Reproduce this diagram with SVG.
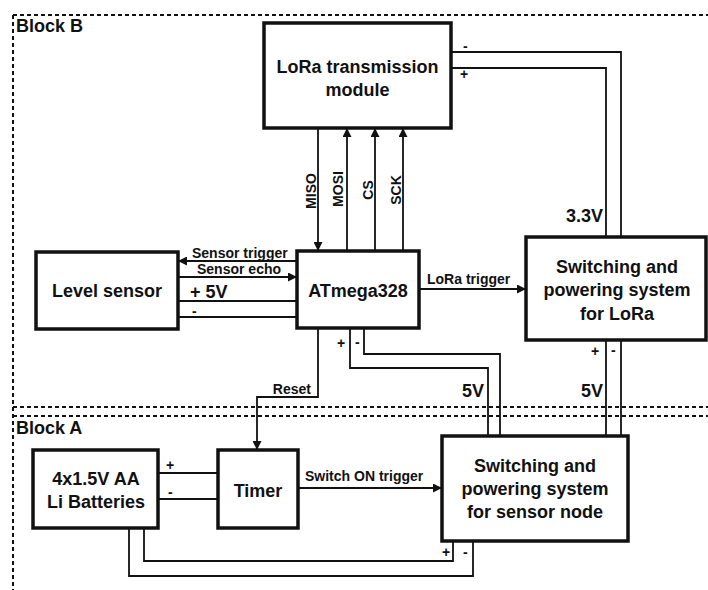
<svg xmlns="http://www.w3.org/2000/svg" width="708" height="590" viewBox="0 0 708 590">
<style>
text{font-family:"Liberation Sans",Arial,sans-serif;font-weight:bold;fill:#111}
.box{fill:#fff;stroke:#111;stroke-width:3.5}
.big{font-size:18px;text-anchor:middle}
.lbl{font-size:14px}
.v{font-size:18px}
.ln{fill:none;stroke:#111;stroke-width:1.8}
.dash{fill:none;stroke:#111;stroke-width:2;stroke-dasharray:4 3}
</style>
<defs>
<marker id="arr" viewBox="0 0 10 10" refX="10" refY="5" markerWidth="9" markerHeight="9" markerUnits="userSpaceOnUse" orient="auto">
<path d="M0,0 L10,5 L0,10 Z" fill="#111"/>
</marker>
</defs>
<rect width="708" height="590" fill="#fff"/>
<g id="blocks">
<path class="dash" d="M13,15 H708 M13,407 H708 M13,416 H708 M13,15 V590"/>
<text x="16" y="32" style="font-size:18px">Block B</text>
<text x="16" y="434" style="font-size:18px">Block A</text>
</g>
<g id="connectors">
<path class="ln" d="M318,128 V251" marker-end="url(#arr)"/>
<path class="ln" d="M347,251 V128" marker-end="url(#arr)"/>
<path class="ln" d="M375,251 V128" marker-end="url(#arr)"/>
<path class="ln" d="M403,251 V128" marker-end="url(#arr)"/>
<text class="lbl" transform="rotate(-90 316 191)" x="316" y="191" text-anchor="middle">MISO</text>
<text class="lbl" transform="rotate(-90 343 189)" x="343" y="189" text-anchor="middle">MOSI</text>
<text class="lbl" transform="rotate(-90 373 190)" x="373" y="190" text-anchor="middle">CS</text>
<text class="lbl" transform="rotate(-90 401 190)" x="401" y="190" text-anchor="middle">SCK</text>
<path class="ln" d="M297,261 H178" marker-end="url(#arr)"/>
<path class="ln" d="M178,277 H297" marker-end="url(#arr)"/>
<path class="ln" d="M178,301 H297 M178,317 H297"/>
<text class="lbl" x="192" y="258">Sensor trigger</text>
<text class="lbl" x="197" y="274">Sensor echo</text>
<text class="v" x="190" y="298">+ 5V</text>
<text class="lbl" x="192" y="316">-</text>
<path class="ln" d="M419,289 H526" marker-end="url(#arr)"/>
<text class="lbl" x="427" y="284">LoRa trigger</text>
<path class="ln" d="M451,52 H621 V237 M451,68 H606 V237"/>
<text class="lbl" x="463" y="51">-</text>
<text class="lbl" x="460" y="79">+</text>
<text class="v" x="603" y="222" text-anchor="end">3.3V</text>
<path class="ln" d="M606,340 V436 M621,340 V436"/>
<text class="lbl" x="591" y="356">+</text>
<text class="lbl" x="611" y="355">-</text>
<text class="v" x="603" y="397" text-anchor="end">5V</text>
<path class="ln" d="M350,328 V368 H488 V436 M364,328 V354 H500 V436"/>
<text class="lbl" x="337" y="348">+</text>
<text class="lbl" x="355" y="347">-</text>
<text class="v" x="484" y="397" text-anchor="end">5V</text>
<path class="ln" d="M318,328 V397 H257 V450" marker-end="url(#arr)"/>
<text class="lbl" x="311" y="394" text-anchor="end">Reset</text>
<path class="ln" d="M158,473 H218 M158,499 H218"/>
<text class="lbl" x="166" y="470">+</text>
<text class="lbl" x="168" y="497">-</text>
<path class="ln" d="M298,488 H442" marker-end="url(#arr)"/>
<text class="lbl" x="305" y="481">Switch ON trigger</text>
<path class="ln" d="M144,528 V561 H453 V541 M129,528 V576 H473 V541"/>
<text class="lbl" x="442" y="557">+</text>
<text class="lbl" x="463" y="557">-</text>
</g>
<g id="lora-module">
<rect class="box" x="264" y="23" width="187" height="105"/>
<text class="big" x="357.5" y="73">LoRa transmission</text>
<text class="big" x="357.5" y="96">module</text>
</g>
<g id="lora-switch">
<rect class="box" x="526" y="237" width="180" height="103"/>
<text class="big" x="617" y="273">Switching and</text>
<text class="big" x="617" y="296">powering system</text>
<text class="big" x="617" y="320">for LoRa</text>
</g>
<g id="atmega">
<rect class="box" x="297" y="251" width="122" height="77"/>
<text class="big" x="358" y="297">ATmega328</text>
</g>
<g id="level-sensor">
<rect class="box" x="36" y="252" width="142" height="77"/>
<text class="big" x="107" y="297">Level sensor</text>
</g>
<g id="batteries">
<rect class="box" x="33" y="450" width="125" height="78"/>
<text class="big" x="96" y="485">4x1.5V AA</text>
<text class="big" x="96" y="508">Li Batteries</text>
</g>
<g id="timer">
<rect class="box" x="218" y="450" width="80" height="78"/>
<text class="big" x="258" y="497">Timer</text>
</g>
<g id="sensor-switch">
<rect class="box" x="442" y="436" width="186" height="105"/>
<text class="big" x="535" y="472">Switching and</text>
<text class="big" x="535" y="495">powering system</text>
<text class="big" x="535" y="518">for sensor node</text>
</g>
</svg>
